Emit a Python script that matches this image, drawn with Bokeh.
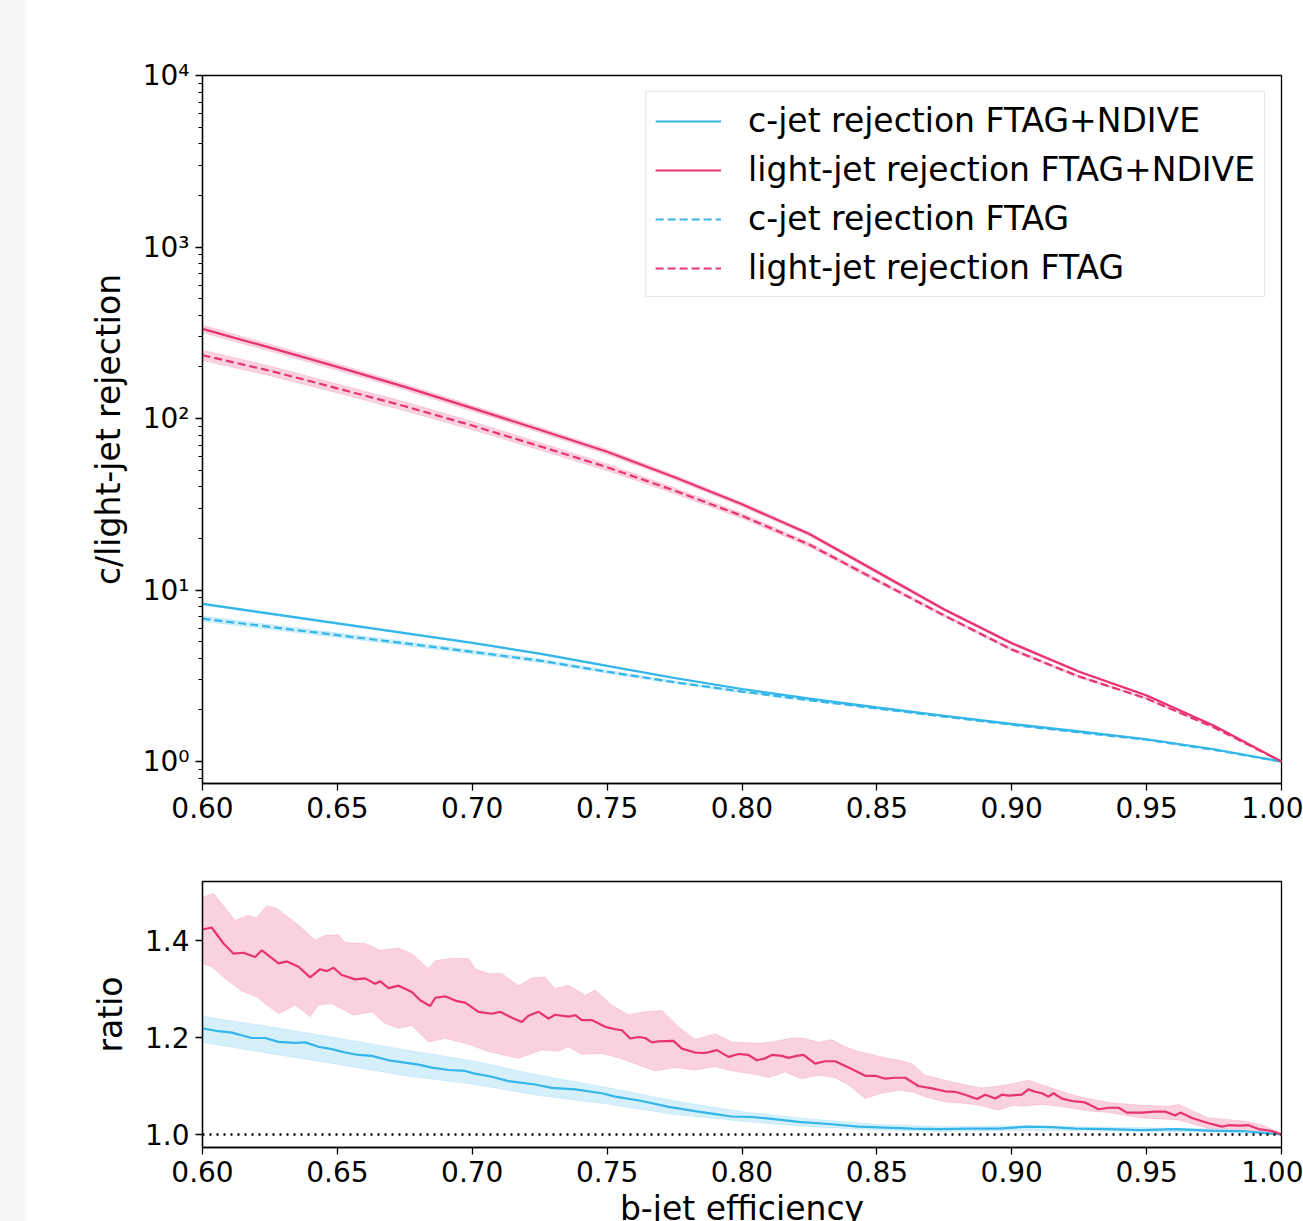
from bokeh.plotting import figure
from bokeh.models import (Range1d, FixedTicker, Legend, LegendItem, Div,
                          NumeralTickFormatter, CustomJSTickFormatter, Span)
from bokeh.layouts import column, row
from bokeh.embed import file_html
from bokeh.resources import INLINE

# ---------------- data ----------------
eff = [0.600, 0.625, 0.650, 0.675, 0.700, 0.725, 0.750, 0.775, 0.800,
       0.825, 0.850, 0.875, 0.900, 0.925, 0.950, 0.975, 1.000]

light_ndive = [333, 259, 200, 153, 115, 86, 64, 45.5, 31.6, 21.2, 12.8, 7.7, 4.9, 3.34, 2.43, 1.62, 1.0]
light_ftag = [234, 190, 150, 118, 91, 69, 52, 38, 27.1, 18.4, 11.4, 7.1, 4.5, 3.13, 2.33, 1.58, 1.0]
c_ndive = [8.3, 7.28, 6.39, 5.61, 4.92, 4.26, 3.61, 3.07, 2.65, 2.33, 2.07, 1.85, 1.66, 1.50, 1.35, 1.18, 1.0]
c_ftag = [6.81, 6.10, 5.46, 4.89, 4.36, 3.88, 3.34, 2.90, 2.56, 2.28, 2.04, 1.83, 1.64, 1.48, 1.34, 1.17, 1.0]

# relative half-widths of the uncertainty bands (top panel)
light_ndive_err = [0.05, 0.045, 0.045, 0.04, 0.04, 0.035, 0.035, 0.03, 0.03, 0.025, 0.025, 0.02, 0.02, 0.015, 0.012, 0.008, 0.003]
light_ftag_err = [0.07, 0.065, 0.06, 0.06, 0.055, 0.05, 0.045, 0.04, 0.035, 0.03, 0.025, 0.02, 0.02, 0.015, 0.012, 0.008, 0.003]
c_ndive_err = [0.015, 0.015, 0.014, 0.013, 0.012, 0.011, 0.010, 0.009, 0.008, 0.007, 0.006, 0.005, 0.005, 0.004, 0.003, 0.002, 0.001]
c_ftag_err = [0.035, 0.033, 0.031, 0.029, 0.027, 0.024, 0.021, 0.018, 0.015, 0.012, 0.010, 0.008, 0.007, 0.006, 0.004, 0.003, 0.001]

# ratio panel: light-jet
ratio_light_x = [0.6000, 0.6034, 0.6078, 0.6115, 0.6152, 0.6195, 0.6220, 0.6282, 0.6313, 0.6356,
                 0.6399, 0.6436, 0.6461, 0.6486, 0.6516, 0.6566, 0.6603, 0.6640, 0.6659, 0.6690,
                 0.6727, 0.6776, 0.6807, 0.6844, 0.6863, 0.6900, 0.6943, 0.6974, 0.7023, 0.7073,
                 0.7103, 0.7147, 0.7184, 0.7208, 0.7246, 0.7283, 0.7307, 0.7357, 0.7382, 0.7406,
                 0.7443, 0.7493, 0.7530, 0.7555, 0.7585, 0.7616, 0.7641, 0.7666, 0.7690, 0.7746,
                 0.7777, 0.7826, 0.7864, 0.7907, 0.7950, 0.7987, 0.8024, 0.8055, 0.8086, 0.8111,
                 0.8148, 0.8172, 0.8203, 0.8228, 0.8271, 0.8308, 0.8345, 0.8395, 0.8457, 0.8494,
                 0.8531, 0.8568, 0.8605, 0.8654, 0.8704, 0.8753, 0.8790, 0.8827, 0.8871, 0.8902,
                 0.8939, 0.8963, 0.8988, 0.9037, 0.9062, 0.9087, 0.9112, 0.9136, 0.9155, 0.9186,
                 0.9223, 0.9272, 0.9322, 0.9359, 0.9396, 0.9427, 0.9482, 0.9532, 0.9569, 0.9606,
                 0.9625, 0.9668, 0.9730, 0.9779, 0.9804, 0.9841, 0.9878, 0.9915, 0.9964, 1.0000]
ratio_light = [1.423, 1.427, 1.394, 1.373, 1.375, 1.366, 1.380, 1.353, 1.357, 1.346,
               1.324, 1.341, 1.337, 1.344, 1.329, 1.320, 1.322, 1.311, 1.316, 1.302,
               1.307, 1.294, 1.277, 1.265, 1.282, 1.285, 1.275, 1.272, 1.253, 1.249,
               1.253, 1.241, 1.232, 1.245, 1.253, 1.239, 1.247, 1.243, 1.246, 1.236,
               1.236, 1.222, 1.217, 1.215, 1.198, 1.201, 1.199, 1.190, 1.192, 1.193,
               1.177, 1.169, 1.168, 1.174, 1.160, 1.166, 1.164, 1.153, 1.157, 1.164,
               1.162, 1.158, 1.162, 1.164, 1.146, 1.151, 1.151, 1.138, 1.121, 1.121,
               1.115, 1.117, 1.117, 1.100, 1.095, 1.089, 1.088, 1.082, 1.073, 1.082,
               1.074, 1.082, 1.080, 1.082, 1.093, 1.088, 1.085, 1.078, 1.085, 1.074,
               1.069, 1.066, 1.052, 1.055, 1.055, 1.045, 1.045, 1.047, 1.047, 1.039,
               1.045, 1.034, 1.023, 1.016, 1.019, 1.018, 1.019, 1.011, 1.007, 1.000]

ratio_light_up_x = [0.6000, 0.6041, 0.6121, 0.6170, 0.6201, 0.6238, 0.6275, 0.6356, 0.6418, 0.6455,
                    0.6504, 0.6529, 0.6603, 0.6659, 0.6727, 0.6776, 0.6838, 0.6863, 0.6924, 0.6986,
                    0.7011, 0.7060, 0.7110, 0.7171, 0.7221, 0.7270, 0.7307, 0.7357, 0.7419, 0.7456,
                    0.7517, 0.7579, 0.7641, 0.7703, 0.7765, 0.7826, 0.7901, 0.7962, 0.8061, 0.8111,
                    0.8185, 0.8234, 0.8284, 0.8333, 0.8383, 0.8432, 0.8481, 0.8531, 0.8580, 0.8630,
                    0.8679, 0.8753, 0.8827, 0.8889, 0.8951, 0.9007, 0.9062, 0.9136, 0.9235, 0.9359,
                    0.9482, 0.9581, 0.9618, 0.9730, 0.9853, 0.9927, 1.0000]
ratio_light_up = [1.490, 1.497, 1.442, 1.452, 1.447, 1.472, 1.467, 1.432, 1.401, 1.411,
                  1.412, 1.396, 1.394, 1.380, 1.385, 1.373, 1.342, 1.359, 1.363, 1.363,
                  1.342, 1.332, 1.332, 1.307, 1.323, 1.325, 1.301, 1.308, 1.287, 1.298,
                  1.267, 1.247, 1.253, 1.256, 1.222, 1.196, 1.208, 1.191, 1.188, 1.191,
                  1.199, 1.198, 1.190, 1.196, 1.181, 1.171, 1.165, 1.158, 1.153, 1.146,
                  1.122, 1.112, 1.102, 1.096, 1.100, 1.105, 1.112, 1.098, 1.080, 1.066,
                  1.060, 1.058, 1.062, 1.034, 1.028, 1.020, 1.002]

ratio_light_lo_x = [0.6000, 0.6034, 0.6084, 0.6146, 0.6201, 0.6238, 0.6282, 0.6344, 0.6399, 0.6430,
                    0.6479, 0.6560, 0.6628, 0.6677, 0.6727, 0.6776, 0.6838, 0.6900, 0.6974, 0.7060,
                    0.7171, 0.7258, 0.7320, 0.7357, 0.7406, 0.7480, 0.7542, 0.7604, 0.7678, 0.7752,
                    0.7826, 0.7901, 0.7962, 0.8049, 0.8098, 0.8160, 0.8222, 0.8284, 0.8345, 0.8395,
                    0.8457, 0.8518, 0.8580, 0.8630, 0.8679, 0.8753, 0.8827, 0.8877, 0.8951, 0.9007,
                    0.9037, 0.9112, 0.9174, 0.9297, 0.9359, 0.9482, 0.9618, 0.9730, 0.9853, 1.0000]
ratio_light_lo = [1.353, 1.346, 1.322, 1.296, 1.284, 1.267, 1.249, 1.267, 1.243, 1.267,
                  1.270, 1.246, 1.253, 1.229, 1.219, 1.225, 1.191, 1.198, 1.188, 1.171,
                  1.157, 1.174, 1.172, 1.181, 1.165, 1.167, 1.158, 1.146, 1.131, 1.138,
                  1.133, 1.140, 1.131, 1.124, 1.117, 1.129, 1.115, 1.122, 1.117, 1.102,
                  1.074, 1.085, 1.091, 1.088, 1.078, 1.067, 1.064, 1.060, 1.050, 1.060,
                  1.058, 1.062, 1.058, 1.048, 1.045, 1.034, 1.030, 1.012, 1.010, 0.999]

# ratio panel: c-jet
ratio_c_x = [0.6000, 0.6059, 0.6109, 0.6183, 0.6232, 0.6282, 0.6344, 0.6381, 0.6430, 0.6479,
             0.6529, 0.6578, 0.6628, 0.6690, 0.6751, 0.6801, 0.6850, 0.6912, 0.6974, 0.7005,
             0.7073, 0.7134, 0.7233, 0.7295, 0.7382, 0.7480, 0.7530, 0.7629, 0.7728, 0.7826,
             0.7913, 0.7962, 0.8036, 0.8111, 0.8209, 0.8333, 0.8432, 0.8531, 0.8630, 0.8729,
             0.8852, 0.8951, 0.9062, 0.9149, 0.9235, 0.9359, 0.9482, 0.9606, 0.9730, 0.9853, 1.0000]
ratio_c = [1.219, 1.213, 1.210, 1.199, 1.199, 1.191, 1.189, 1.190, 1.181, 1.176,
           1.169, 1.164, 1.162, 1.153, 1.148, 1.144, 1.138, 1.133, 1.131, 1.126,
           1.119, 1.110, 1.103, 1.096, 1.093, 1.085, 1.078, 1.069, 1.057, 1.048,
           1.041, 1.037, 1.036, 1.032, 1.026, 1.021, 1.016, 1.014, 1.012, 1.011,
           1.012, 1.012, 1.016, 1.015, 1.012, 1.011, 1.009, 1.011, 1.008, 1.007, 1.000]
ratio_c_band_x = eff
ratio_c_up = [1.244, 1.222, 1.199, 1.175, 1.152, 1.122, 1.097, 1.069, 1.047, 1.032, 1.021, 1.016, 1.018, 1.016, 1.014, 1.011, 1.001]
ratio_c_lo = [1.190, 1.167, 1.145, 1.121, 1.104, 1.080, 1.063, 1.041, 1.027, 1.016, 1.009, 1.006, 1.008, 1.008, 1.006, 1.005, 0.999]

x_ticks = [0.60, 0.65, 0.70, 0.75, 0.80, 0.85, 0.90, 0.95, 1.00]
y_ticks_log = [1, 10, 100, 1000, 10000]
y_minor_log = [0.8, 0.9] + [m * 10 ** k for k in range(0, 4) for m in range(2, 10)]
ratio_ticks = [1.0, 1.2, 1.4]

# ---------------- style ----------------
FONT = "DejaVu Sans"
BLUE = "#33b6ea"
PINK = "#e8336d"


def style(p):
    p.outline_line_color = "black"
    p.outline_line_width = 1.3
    p.grid.visible = False
    p.background_fill_color = "white"
    p.border_fill_color = "white"
    for ax in p.axis:
        ax.major_label_text_font = FONT
        ax.major_label_text_font_size = "28px"
        ax.major_label_text_color = "black"
        ax.axis_label_text_font = FONT
        ax.axis_label_text_font_size = "33px"
        ax.axis_label_text_font_style = "normal"
        ax.axis_label_text_color = "black"
        ax.axis_label_standoff = 12
        ax.axis_line_color = "black"
        ax.axis_line_width = 1.3
        ax.major_tick_line_color = "black"
        ax.minor_tick_line_color = "black"
        ax.major_tick_line_width = 1.3
        ax.minor_tick_line_width = 1
        ax.major_tick_out = 7
        ax.major_tick_in = 0
        ax.minor_tick_out = 4
        ax.minor_tick_in = 0
        ax.major_label_standoff = 6


def band_xy(x, val, err):
    lo = [v * (1 - e) for v, e in zip(val, err)]
    hi = [v * (1 + e) for v, e in zip(val, err)]
    return list(x) + list(x)[::-1], hi + lo[::-1]


FIG_W = 1277

# ---------------- top panel ----------------
p1 = figure(width=FIG_W, height=850, x_range=Range1d(0.6, 1.0), y_range=Range1d(0.745, 1e4),
            y_axis_type="log", output_backend="svg", toolbar_location=None,
            min_border_left=176, min_border_right=FIG_W - 176 - 1079, min_border_top=75,
            min_border_bottom=67)

for vals, errs, col in [(light_ftag, light_ftag_err, PINK), (light_ndive, light_ndive_err, PINK),
                        (c_ftag, c_ftag_err, BLUE), (c_ndive, c_ndive_err, BLUE)]:
    bx, by = band_xy(eff, vals, errs)
    p1.patch(bx, by, fill_color=col, fill_alpha=0.22, line_color=col, line_alpha=0.15, line_width=1)

r_c = p1.line(eff, c_ndive, line_color=BLUE, line_width=2.2)
r_l = p1.line(eff, light_ndive, line_color=PINK, line_width=2.2)
r_cf = p1.line(eff, c_ftag, line_color=BLUE, line_width=2.2, line_dash="8 4")
r_lf = p1.line(eff, light_ftag, line_color=PINK, line_width=2.2, line_dash="8 4")

p1.xaxis.ticker = FixedTicker(ticks=x_ticks, minor_ticks=[])
p1.xaxis.formatter = NumeralTickFormatter(format="0.00")
p1.yaxis.ticker = FixedTicker(ticks=y_ticks_log, minor_ticks=y_minor_log)
p1.yaxis.formatter = CustomJSTickFormatter(code="""
const s = ['\\u2070', '\\u00b9', '\\u00b2', '\\u00b3', '\\u2074', '\\u2075'];
const e = Math.round(Math.log10(tick));
return '10' + s[e];
""")
p1.yaxis.axis_label = "c/light-jet rejection"
style(p1)

legend = Legend(items=[
    LegendItem(label="c-jet rejection FTAG+NDIVE", renderers=[r_c]),
    LegendItem(label="light-jet rejection FTAG+NDIVE", renderers=[r_l]),
    LegendItem(label="c-jet rejection FTAG", renderers=[r_cf]),
    LegendItem(label="light-jet rejection FTAG", renderers=[r_lf]),
], location="top_right")
legend.label_text_font = FONT
legend.label_text_font_size = "33px"
legend.label_text_color = "black"
legend.glyph_width = 66
legend.glyph_height = 36
legend.label_height = 36
legend.spacing = 10
legend.padding = 9
legend.label_standoff = 27
legend.margin = 16
legend.border_line_color = "#cccccc"
legend.border_line_width = 1
legend.background_fill_alpha = 0.85
p1.add_layout(legend)

# ---------------- ratio panel ----------------
p2 = figure(width=FIG_W, height=400, x_range=Range1d(0.6, 1.0), y_range=Range1d(0.973, 1.522),
            output_backend="svg", toolbar_location=None,
            min_border_left=176, min_border_right=FIG_W - 176 - 1079, min_border_top=31,
            min_border_bottom=103)

p2.patch(ratio_light_up_x + ratio_light_lo_x[::-1], ratio_light_up + ratio_light_lo[::-1],
         fill_color=PINK, fill_alpha=0.22, line_color=PINK, line_alpha=0.15, line_width=1)
p2.patch(list(ratio_c_band_x) + list(ratio_c_band_x)[::-1], ratio_c_up + ratio_c_lo[::-1],
         fill_color=BLUE, fill_alpha=0.2, line_color=BLUE, line_alpha=0.15, line_width=1)
p2.line(ratio_c_x, ratio_c, line_color=BLUE, line_width=2.2)
p2.line(ratio_light_x, ratio_light, line_color=PINK, line_width=2.2)
p2.add_layout(Span(location=1.0, dimension="width", line_color="black",
                   line_width=2.5, line_dash="2 5"))

p2.xaxis.ticker = FixedTicker(ticks=x_ticks, minor_ticks=[])
p2.xaxis.formatter = NumeralTickFormatter(format="0.00")
p2.yaxis.ticker = FixedTicker(ticks=ratio_ticks, minor_ticks=[])
p2.yaxis.formatter = NumeralTickFormatter(format="0.0")
p2.yaxis.axis_label = "ratio"
p2.xaxis.axis_label = "b-jet efficiency"
style(p2)
p2.xaxis.axis_label_standoff = 4

strip = Div(text="", width=34, height=1221, margin=(0, 0, 0, -8),
            styles={"background-color": "#f8f8f8"})

# the x-axis title runs past the bottom of the window, as in the original
plots = column(p1, p2, width=FIG_W, height=1221, styles={"overflow": "hidden"})

layout = row(strip, plots)
open("out.html", "w").write(file_html(layout, INLINE))
